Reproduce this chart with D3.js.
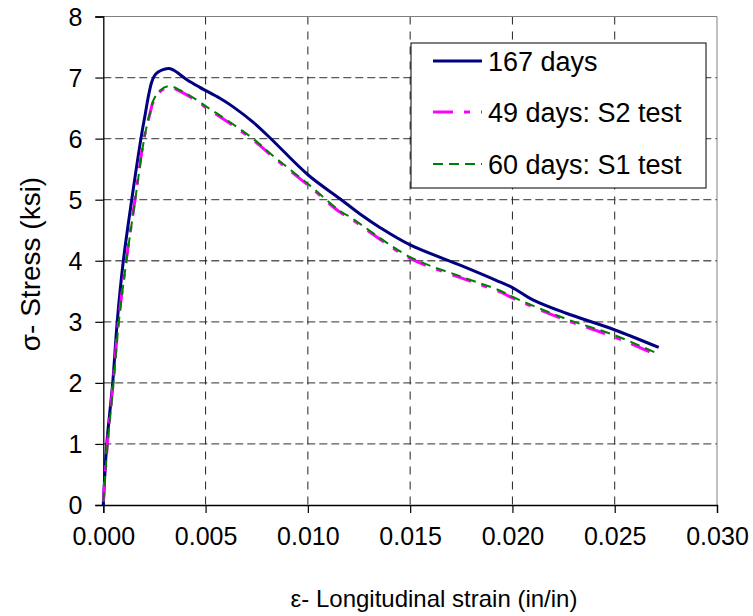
<!DOCTYPE html>
<html>
<head>
<meta charset="utf-8">
<script src="https://cdn.jsdelivr.net/npm/d3@7"></script>
<style>
  html, body { margin: 0; padding: 0; background: #fff; }
  svg { display: block; font-family: "Liberation Sans", Arial, sans-serif; }
</style>
</head>
<body>
<svg id="chart" width="753" height="616"></svg>
<script>
// Stress-strain curves (strain in in/in, stress in ksi)
const strain167 = [0, 0.00017, 0.00046, 0.00068, 0.00098, 0.00139, 0.00184, 0.00205, 0.00222, 0.00236, 0.0025, 0.00268, 0.00292, 0.00322, 0.00345, 0.00407, 0.00472, 0.0057, 0.00635, 0.00732, 0.00822, 0.01003, 0.01155, 0.01253, 0.0135, 0.015, 0.0175, 0.0192, 0.02, 0.021, 0.02263, 0.02498, 0.02715];
const stress167 = [0, 1.0, 2.0, 3.0, 4.0, 5.0, 6.0, 6.4, 6.72, 6.92, 7.03, 7.09, 7.13, 7.15, 7.12, 6.97, 6.84, 6.66, 6.52, 6.27, 5.99, 5.4, 5.02, 4.77, 4.55, 4.26, 3.92, 3.68, 3.56, 3.36, 3.14, 2.87, 2.58];

const strain49 = [0, 0.0002, 0.00048, 0.00074, 0.00112, 0.00155, 0.00199, 0.00228, 0.00244, 0.00277, 0.00322, 0.00383, 0.00472, 0.00505, 0.0057, 0.00732, 0.00822, 0.01, 0.01155, 0.01205, 0.015, 0.0175, 0.0194, 0.02, 0.0226, 0.025, 0.0271];
const stress49 = [0.05, 1.0, 2.0, 3.0, 4.0, 5.0, 6.0, 6.41, 6.6, 6.77, 6.84, 6.76, 6.58, 6.5, 6.36, 5.98, 5.72, 5.24, 4.8, 4.7, 4.04, 3.72, 3.49, 3.39, 3.03, 2.75, 2.45];

const strain60 = [0, 0.00021, 0.0005, 0.00076, 0.00113, 0.00156, 0.002, 0.00228, 0.00244, 0.00277, 0.00322, 0.00383, 0.00472, 0.00505, 0.0057, 0.00732, 0.00822, 0.01, 0.01155, 0.01205, 0.015, 0.0175, 0.0194, 0.02, 0.0226, 0.025, 0.0271];
const stress60 = [0.05, 1.0, 2.0, 3.0, 4.0, 5.0, 6.0, 6.42, 6.62, 6.79, 6.86, 6.78, 6.6, 6.52, 6.38, 6.0, 5.74, 5.26, 4.82, 4.72, 4.06, 3.74, 3.51, 3.41, 3.05, 2.78, 2.48];

const seriesNames = ["167 days", "49 days: S2 test", "60 days: S1 test"];
const xTicks = [0, 0.005, 0.01, 0.015, 0.02, 0.025, 0.03];
const yTicks = [0, 1, 2, 3, 4, 5, 6, 7, 8];

const zip = (xs, ys) => xs.map((x, i) => [x, ys[i]]);
const series = [
  { name: seriesNames[0], pts: zip(strain167, stress167), color: "#000080", width: 3, dash: null },
  { name: seriesNames[1], pts: zip(strain49, stress49), color: "#FF00FF", width: 3, dash: "20,11,6,11" },
  { name: seriesNames[2], pts: zip(strain60, stress60), color: "#008000", width: 2, dash: "10,6" }
];

const svg = d3.select("#chart");
const L = 103.3, R = 717, T = 16.5, B = 505;

const x = d3.scaleLinear().domain([0, 0.03]).range([L, R]);
const y = d3.scaleLinear().domain([0, 8]).range([B, T]);

// grid
svg.append("g").selectAll("line").data(yTicks.slice(1, -1)).join("line")
  .attr("x1", L).attr("x2", R).attr("y1", d => y(d)).attr("y2", d => y(d))
  .attr("stroke", "#5a5a5a").attr("stroke-width", 1.3).attr("stroke-dasharray", "8,4");
svg.append("g").selectAll("line").data(xTicks.slice(1, -1)).join("line")
  .attr("x1", d => x(d)).attr("x2", d => x(d)).attr("y1", T).attr("y2", B)
  .attr("stroke", "#222").attr("stroke-width", 1).attr("stroke-dasharray", "8,7");

// frame top/right
svg.append("line").attr("x1", L).attr("x2", R).attr("y1", T).attr("y2", T).attr("stroke", "#808080");
svg.append("line").attr("x1", R).attr("x2", R).attr("y1", T).attr("y2", B).attr("stroke", "#808080");

// axes
const fmtX = d3.format(".3f");
const xAxis = svg.append("g").attr("transform", `translate(0,${B})`)
  .call(d3.axisBottom(x).tickValues(xTicks).tickFormat(fmtX).tickSizeOuter(0).tickSize(8).tickPadding(14));
const yAxis = svg.append("g").attr("transform", `translate(${L},0)`)
  .call(d3.axisLeft(y).tickValues(yTicks).tickFormat(d3.format("d")).tickSizeOuter(0).tickSize(8).tickPadding(13));
[xAxis, yAxis].forEach(a => {
  a.select(".domain").attr("stroke", "#000").attr("stroke-width", 1.3);
  a.selectAll(".tick line").attr("stroke", "#000").attr("stroke-width", 1.2);
  a.selectAll("text").attr("font-size", 25).attr("fill", "#000")
    .attr("font-family", "'Liberation Sans', Arial, sans-serif");
});
yAxis.selectAll("text").attr("dy", "0.35em");

// curves
const line = d3.line().x(d => x(d[0])).y(d => y(d[1])).curve(d3.curveCatmullRom.alpha(0.5));
series.forEach(s => {
  svg.append("path").datum(s.pts)
    .attr("d", line).attr("fill", "none")
    .attr("stroke", s.color).attr("stroke-width", s.width)
    .attr("stroke-dasharray", s.dash).attr("stroke-linejoin", "round");
});

// legend
const lg = svg.append("g");
lg.append("rect").attr("x", 411).attr("y", 43).attr("width", 295).attr("height", 145)
  .attr("fill", "#fff").attr("stroke", "#000").attr("stroke-width", 1);
const rows = [61, 112, 164];
series.forEach((s, i) => {
  lg.append("line").attr("x1", 433).attr("x2", 482).attr("y1", rows[i]).attr("y2", rows[i])
    .attr("stroke", s.color).attr("stroke-width", s.width).attr("stroke-dasharray", s.dash);
  lg.append("text").attr("x", 488).attr("y", rows[i] + 10)
    .attr("font-size", 27).text(s.name);
});

// axis titles
svg.append("text").attr("x", 434).attr("y", 607).attr("text-anchor", "middle")
  .attr("font-size", 24).text("ε- Longitudinal strain (in/in)");
svg.append("text").attr("transform", "translate(40,264) rotate(-90)")
  .attr("text-anchor", "middle").attr("font-size", 28).text("σ- Stress (ksi)");
</script>
</body>
</html>
